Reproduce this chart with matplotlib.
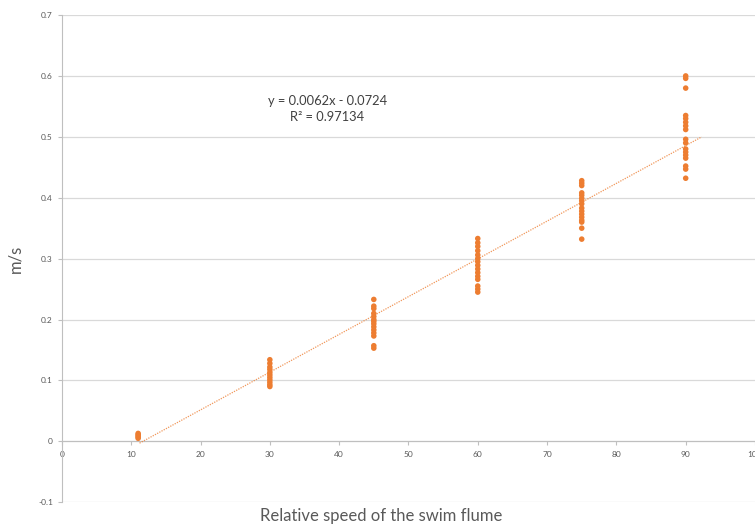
import numpy as np
import matplotlib
matplotlib.use("Agg")
import matplotlib.pyplot as plt

plt.rcParams['font.family'] = ['Lato', 'DejaVu Sans']

# measured speeds (m/s) at each flume setting
speeds_11 = [0.005, 0.007, 0.009, 0.011, 0.013]
speeds_30 = [0.134, 0.128, 0.122, 0.118, 0.113, 0.109, 0.105, 0.101, 0.097, 0.093, 0.090]
speeds_45 = [0.233, 0.222, 0.218, 0.210, 0.205, 0.200, 0.197, 0.193, 0.188, 0.183,
             0.178, 0.173, 0.157, 0.153]
speeds_60 = [0.333, 0.326, 0.320, 0.313, 0.306, 0.300, 0.295, 0.289, 0.283, 0.277,
             0.271, 0.266, 0.255, 0.250, 0.245]
speeds_75 = [0.428, 0.424, 0.420, 0.408, 0.404, 0.399, 0.395, 0.390, 0.383, 0.378,
             0.373, 0.368, 0.363, 0.360, 0.350, 0.332]
speeds_90 = [0.600, 0.596, 0.580, 0.535, 0.530, 0.524, 0.518, 0.512, 0.496, 0.490,
             0.480, 0.475, 0.470, 0.465, 0.452, 0.447, 0.432]

settings = [11, 30, 45, 60, 75, 90]
groups = [speeds_11, speeds_30, speeds_45, speeds_60, speeds_75, speeds_90]

# trendline as reported
slope = 0.0062
intercept = -0.0724
r2 = 0.97134
trend_x = [11.2, 92.3]

orange = '#ED7D31'
grey_txt = '#595959'

fig = plt.figure(figsize=(7.55, 5.27), dpi=100)
ax = fig.add_axes([0.082, 0.047, 0.918, 0.9245])

x = []
y = []
for s, g in zip(settings, groups):
    x += [s]*len(g)
    y += g
ax.scatter(x, y, s=16, color=orange, edgecolors='none', zorder=3)

tx = np.array(trend_x)
ax.plot(tx, slope*tx + intercept, color=orange, lw=0.9, ls=(0, (1, 1)), alpha=0.8, zorder=2)

ax.text(38.3, 0.546, 'y = 0.0062x - 0.0724\nR² = %.5f' % r2, fontsize=9.3,
        ha='center', va='center', color='#404040', linespacing=1.4)

ax.set_xlim(0, 100)
ax.set_ylim(-0.1, 0.7)
ax.set_xticks(range(0, 101, 10))
ax.set_yticks(np.round(np.arange(-0.1, 0.71, 0.1), 1))
ax.set_yticklabels(['-0.1', '0', '0.1', '0.2', '0.3', '0.4', '0.5', '0.6', '0.7'])

ax.spines['top'].set_visible(False)
ax.spines['right'].set_visible(False)
ax.spines['bottom'].set_position(('data', 0))
ax.spines['bottom'].set_color('#bfbfbf')
ax.spines['left'].set_color('#bfbfbf')
ax.spines['bottom'].set_zorder(1)

ax.grid(axis='y', color='#d9d9d9', lw=0.9, zorder=0)
ax.set_axisbelow(True)
ax.tick_params(axis='both', labelsize=6, colors='#bfbfbf', labelcolor=grey_txt, length=3, width=0.8)
ax.tick_params(axis='x', pad=4)

ax.set_xlabel('Relative speed of the swim flume', fontsize=12, color=grey_txt)
ax.xaxis.set_label_coords(0.46, -0.012)
ax.set_ylabel('m/s', fontsize=12, color=grey_txt)
ax.yaxis.set_label_coords(-0.055, 0.5)

fig.savefig('out.png', dpi=100)
